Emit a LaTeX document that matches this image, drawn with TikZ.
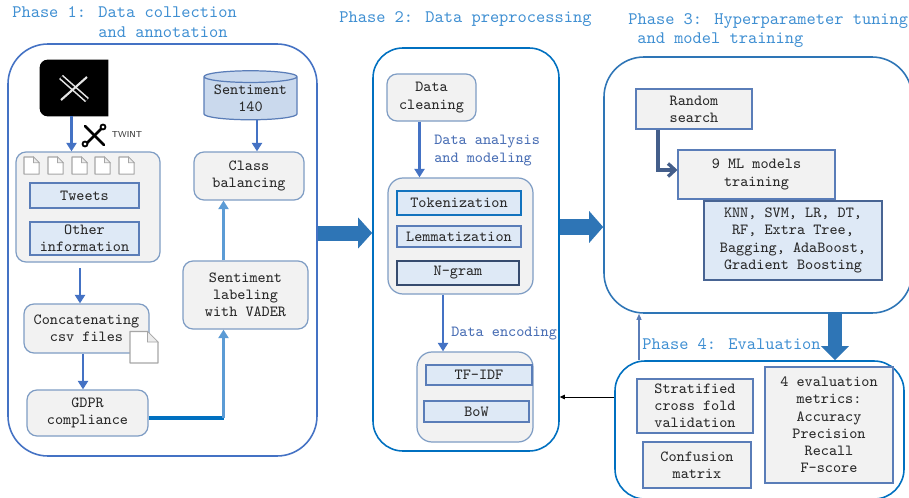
\documentclass[tikz,border=0pt]{standalone}
\usepackage{fontspec}
\usetikzlibrary{arrows.meta,shapes.geometric}
\definecolor{phasetxt}{HTML}{3F8FD2}
\definecolor{steptxt}{HTML}{4A6FB5}
\definecolor{flowblue}{HTML}{4472C4}
\definecolor{flowlight}{HTML}{5B9BD5}
\definecolor{flowdark}{HTML}{0070C0}
\definecolor{bigblue}{HTML}{2E75B6}
\definecolor{boxgray}{HTML}{F2F2F2}
\definecolor{boxblue}{HTML}{DEE9F6}
\definecolor{edgesoft}{HTML}{7F9DC4}
\definecolor{edgerect}{HTML}{5A7DB8}
\definecolor{inktxt}{HTML}{2A2A2A}
\tikzset{
  sz/.style 2 args={minimum width=#1*.02cm,minimum height=#2*.02cm,inner sep=0pt},
  body/.style={font=\ttfamily\fontsize{8.8}{9.8}\selectfont,text=inktxt,align=center},
  head/.style={font=\ttfamily\fontsize{10}{11.2}\selectfont,text=phasetxt,align=left,anchor=west,inner sep=0pt},
  steplabel/.style={font=\ttfamily\fontsize{8.8}{9.8}\selectfont,text=steptxt,align=left,anchor=west,inner sep=0pt},
  phase/.style={draw=#1,line width=.9pt,fill=white,rounded corners=.8cm},
  softbox/.style={body,draw=edgesoft,line width=.7pt,fill=boxgray,rounded corners=.2cm},
  graybox/.style={body,draw=edgerect,line width=.6pt,fill=boxgray},
  bluebox/.style={body,draw=edgerect,line width=.6pt,fill=boxblue},
  flow/.style={draw=#1,line width=1.7pt,-{Triangle[width=.2cm,length=.17cm]}},
  bigflow/.style={draw=bigblue,line width=#1,-{Triangle[width=2*#1,length=.28cm]}},
  docicon/.pic={
    \draw[gray!70,fill=white,line width=.6pt,line join=round] (0,0) -- (10,0) -- (16,6) -- (16,18) -- (0,18) -- cycle;
    \draw[gray!70,fill=gray!15,line width=.4pt] (10,0) -- (10,6) -- (16,6) -- cycle;
  },
}
\begin{document}
\begin{tikzpicture}[x=.02cm,y=-.02cm]
\useasboundingbox (0,0) rectangle (909,497);
% phases
\node[phase=flowblue,sz={309}{412}] (phaseA) at (162.5,250) {};
\node[phase=flowdark,sz={186}{403},rounded corners=.6cm] (phaseB) at (466,249.5) {};
\node[phase=bigblue,sz={308}{256}] (phaseC) at (758,185) {};
\node[phase=flowdark,sz={289}{138},rounded corners=.6cm] (phaseD) at (759.5,430) {};
\node[head] (titleA) at (12,22) {Phase 1: Data collection\\\phantom{Phase 1: }and annotation};
\node[head] (titleB) at (339,19) {Phase 2: Data preprocessing};
\node[head] (titleC) at (628,30.5) {Phase 3: Hyperparameter tuning\\\hspace*{.18cm}and model training};
\node[head] (titleD) at (642,344) {Phase 4: Evaluation};
% phase 1
\node[sz={68}{56}] (logo) at (74,88) {};
\fill[black] (logo.north east) [rounded corners=.16cm] -- (logo.north west) -- (logo.south west) [sharp corners] -- (logo.south east) -- cycle;
\draw[white!90!black,line width=3.2pt] (61,77) -- (87,100);
\draw[black,line width=1.4pt] (61,77) -- (87,100);
\draw[white!90!black,line width=1.2pt] (87,77) -- (61,100);
\draw[black,line width=1.6pt,line cap=round] (85,126) -- (104,145);
\draw[black,line width=1.6pt,line cap=round] (104,126) -- (85,145);
\draw[black,line width=1pt,fill=white] (103,127) circle (2.5);
\draw[black,line width=1pt,fill=white] (85,144) circle (2.5);
\node[font=\sffamily\fontsize{4.9}{6}\selectfont,text=inktxt,inner sep=0pt] (twint) at (127,134.5) {TWINT};
\node[softbox,sz={144}{110}] (tweetbox) at (88,207) {};
\foreach \x in {24,48,72,95,119}
    \pic[scale=.95] at (\x,157) {docicon};
\node[bluebox,sz={109}{25}] (tweets) at (84.5,195.5) {Tweets};
\node[bluebox,sz={109}{33}] (other) at (84.5,238.5) {Other\\information};
\node[softbox,sz={125}{49}] (concat) at (86.5,328.5) {Concatenating\\csv files};
\pic[scale=1.75] at (130,331.5) {docicon};
\node[softbox,sz={121}{46}] (gdpr) at (87.5,413) {GDPR\\compliance};
\node[softbox,sz={125}{68}] (vader) at (245.5,295) {Sentiment\\labeling\\with VADER};
\node[softbox,sz={110}{48}] (balance) at (249,176) {Class\\balancing};
\node[body,shape=cylinder,shape border rotate=90,aspect=.16,draw=edgerect,line width=.7pt,fill=boxblue!85!edgerect,sz={93}{49}] (senti) at (250.5,98.5) {Sentiment\\140};
\coordinate (bend) at (223.5,418);
\draw[flow=flowblue] (71.5,0 |- logo.south) -- (71.5,0 |- tweetbox.north);
\draw[flow=flowblue] (80,268) -- (80,0 |- concat.north);
\draw[flow=flowblue] (83,0 |- concat.south) -- (83,0 |- gdpr.north);
\draw[flow=flowblue] (257,0 |- senti.south) -- (257,0 |- balance.north);
\draw[draw=flowdark,line width=1.9pt] (gdpr.east |- bend) -- (bend);
\draw[flow=flowlight] (bend) -- (bend |- vader.south);
\draw[flow=flowlight] (223.5,0 |- vader.north) -- (223.5,0 |- balance.south);
% phase 2
\node[softbox,sz={89}{47}] (clean) at (431.5,97.5) {Data\\cleaning};
\node[softbox,sz={145}{116},rounded corners=.3cm] (prep) at (460.5,236) {};
\node[bluebox,sz={124}{24},draw=flowdark!80!edgerect] (token) at (459,203) {Tokenization};
\node[bluebox,sz={124}{21}] (lemma) at (459,236.5) {Lemmatization};
\node[bluebox,sz={122}{24},draw=edgerect!60!black] (ngram) at (458,273) {N-gram};
\node[softbox,sz={116}{90},rounded corners=.3cm] (enc) at (475,397) {};
\node[bluebox,sz={106}{20}] (tfidf) at (479,375) {TF-IDF};
\node[bluebox,sz={105}{21}] (bow) at (476.5,411.5) {BoW};
\node[steplabel] (analysis) at (434,150.5) {Data analysis\\and modeling};
\node[steplabel] (encoding) at (451,334) {Data encoding};
\draw[flow=flowblue] (419.5,0 |- clean.south) -- (419.5,0 |- prep.north);
\draw[flow=flowblue] (443,0 |- prep.south) -- (443,0 |- enc.north);
% phase 3
\node[graybox,sz={116}{40}] (search) at (694,109) {Random\\search};
\node[graybox,sz={157}{49}] (train) at (756.5,174.5) {9 ML models\\training};
\node[bluebox,sz={178}{79},draw=edgerect!80!black] (models) at (793,240.5) {KNN, SVM, LR, DT,\\RF, Extra Tree,\\Bagging, AdaBoost,\\Gradient Boosting};
\draw[draw=edgerect!75!black,line width=1.9pt,-{Straight Barb[width=.26cm,length=.14cm]}] (658,0 |- search.south) |- (train.west |- 0,170);
% phase 4
\node[graybox,sz={116}{54}] (strat) at (695,406) {Stratified\\cross fold\\validation};
\node[graybox,sz={108}{46}] (conf) at (697,465) {Confusion\\matrix};
\node[graybox,sz={128}{116}] (metrics) at (829,425) {4 evaluation\\metrics:\\Accuracy\\Precision\\Recall\\F-score};
% between phases
\draw[bigflow=.3cm] (phaseA.east |- 0,233) -- (phaseB.west |- 0,233);
\draw[bigflow=.31cm] (phaseB.east |- 0,227) -- (phaseC.west |- 0,227);
\draw[bigflow=.27cm] (835,0 |- phaseC.south) -- (835,0 |- phaseD.north);
\draw[draw=edgerect,line width=.7pt,-{Triangle[width=.1cm,length=.12cm]}] (639,0 |- phaseD.north) -- (639,0 |- phaseC.south);
\draw[draw=black,line width=.5pt,-{Triangle[width=.09cm,length=.1cm]}] (phaseD.west |- 0,397) -- (phaseB.east |- 0,397);
\end{tikzpicture}
\end{document}
